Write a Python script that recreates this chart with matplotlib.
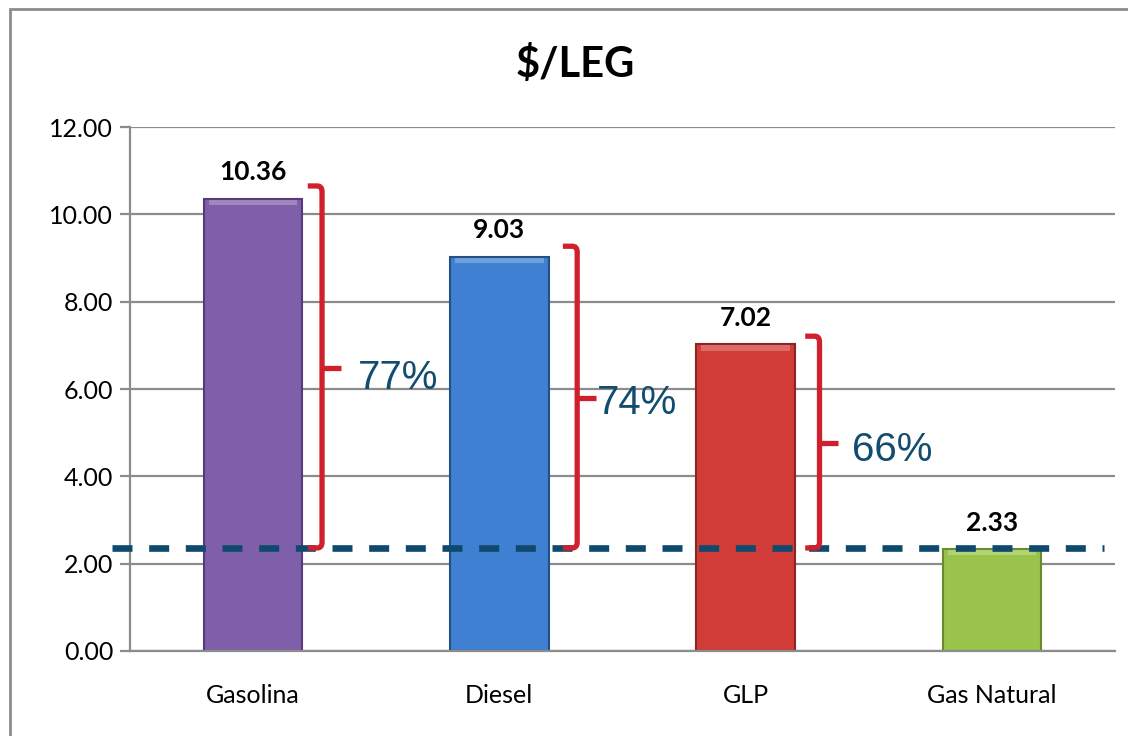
import numpy as np
import matplotlib
matplotlib.use("Agg")
import matplotlib.pyplot as plt
from matplotlib.path import Path
from matplotlib.patches import PathPatch, Rectangle

# --- data ---
categories = ["Gasolina", "Diesel", "GLP", "Gas Natural"]
values = [10.36, 9.03, 7.02, 2.33]
value_labels = ["10.36", "9.03", "7.02", "2.33"]
reference_level = 2.36          # dashed line (gas natural level)
savings_labels = ["77%", "74%", "66%"]
bracket_tops = [10.65, 9.27, 7.21]
bracket_mids = [6.48, 5.79, 4.76]
yticks = [0, 2, 4, 6, 8, 10, 12]

bar_colors = ["#7f5fa9", "#3f80d2", "#d23c38", "#99c34a"]
edge_colors = ["#563a7c", "#264f86", "#8f2522", "#6a8a2c"]

plt.rcParams['font.family'] = ['Lato', 'DejaVu Sans']

fig = plt.figure(figsize=(11.28, 7.36), dpi=100)
ax = fig.add_axes([0.1152, 0.1155, 0.8733, 0.7119])

x = np.arange(len(categories))

# grid
for t in yticks:
    ax.axhline(t, color="#8c8c8c", lw=1.6, zorder=0)

bars = ax.bar(x, values, width=0.4, color=bar_colors, edgecolor=edge_colors,
              linewidth=1.5, zorder=2)

# light highlight at top of each bar
for xi, v, c in zip(x, values, bar_colors):
    ax.bar(xi, 0.12, bottom=v - 0.14, width=0.36, color="white", alpha=0.25,
           linewidth=0, zorder=3)

for xi, v, lab in zip(x, values, value_labels):
    ax.annotate(lab, (xi, v), xytext=(0, 19), textcoords="offset points",
                ha="center", va="center", fontsize=19, fontweight="bold",
                color="black")

# dashed reference line
ax.plot([-0.573, 3.456], [reference_level, reference_level], color="#0f4a6e",
        lw=4.8, dashes=(3.0, 2.5), zorder=4, clip_on=False,
        solid_capstyle="butt", dash_capstyle="butt")

# red brackets
bracket_x = [0.28, 1.316, 2.30]
hook = 0.058
tick = 0.075
rad = 0.13
rx = 0.02
red = "#d01f2d"
for bx, top, mid in zip(bracket_x, bracket_tops, bracket_mids):
    verts = [(bx - hook, top), (bx - rx, top), (bx, top), (bx, top - rad),
             (bx, reference_level + rad), (bx, reference_level),
             (bx - rx, reference_level), (bx - hook, reference_level)]
    codes = [Path.MOVETO, Path.LINETO, Path.CURVE3, Path.CURVE3,
             Path.LINETO, Path.CURVE3, Path.CURVE3, Path.LINETO]
    ax.add_patch(PathPatch(Path(verts, codes), fill=False, edgecolor=red,
                           lw=3.8, zorder=5, capstyle="butt", clip_on=False))
    ax.plot([bx, bx + tick], [mid, mid], color=red, lw=3.8, zorder=5,
            solid_capstyle="butt")

label_x = [0.426, 1.397, 2.43]
label_y = [6.25, 5.68, 4.60]
for lx, ly, lab in zip(label_x, label_y, savings_labels):
    ax.text(lx, ly, lab, fontsize=29, color="#124c6e", ha="left", va="center",
            family=["Liberation Sans", "DejaVu Sans"], zorder=6)

ax.set_xlim(-0.5, 3.5)
ax.set_ylim(0, 12)
ax.set_yticks(yticks)
ax.set_yticklabels([f"{t:.2f}" for t in yticks], fontsize=18)
ax.set_xticks(x)
ax.set_xticklabels(categories, fontsize=18)
ax.tick_params(axis="x", length=0, pad=24)
ax.tick_params(axis="y", length=7, width=1.6, color="#8c8c8c", pad=5)

for s in ["top", "right"]:
    ax.spines[s].set_visible(False)
ax.spines["left"].set_color("#8c8c8c")
ax.spines["left"].set_linewidth(1.6)
ax.spines["bottom"].set_color("#8c8c8c")
ax.spines["bottom"].set_linewidth(1.6)

fig.text(0.51, 0.912, "$/LEG", ha="center", va="center", fontsize=30,
         fontweight="bold")

# outer chart border
fig.patches.append(Rectangle((10 / 1128, -0.05), 1.1, 1.05 - 9 / 736,
                             transform=fig.transFigure, fill=False,
                             edgecolor="#8c8c8c", lw=2))

fig.savefig("out.png", dpi=100)
